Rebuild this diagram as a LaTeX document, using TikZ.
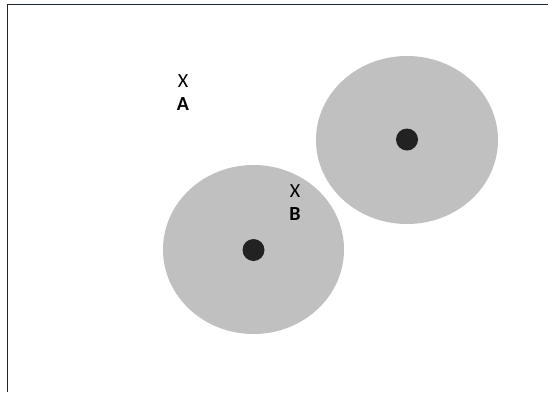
\documentclass[tikz,border=0pt]{standalone}
\usepackage{fontspec}
\setmainfont{Carlito}
\definecolor{disc}{HTML}{C0C0C0}
\definecolor{dotc}{HTML}{222222}
\definecolor{frame}{HTML}{1A2A30}
\begin{document}
\begin{tikzpicture}[x=1pt,y=-1pt,
  zone/.style={fill=disc,draw=none},
  centre/.style={circle,fill=dotc,inner sep=0pt,minimum size=22pt},
  lbl/.style={inner sep=0pt,font=\fontsize{20}{20}\selectfont}]
\useasboundingbox (0,0) rectangle (548,392);
\fill[white] (0,0) rectangle (548,392);
\draw[frame,line width=1.4pt] (7.5,392) -- (7.5,4.5) -- (548,4.5);
\fill[zone] (407,140) ellipse [x radius=91,y radius=84];
\fill[zone] (253.5,249.5) ellipse [x radius=90.5,y radius=84.5];
\node[centre] (c1) at (407,139.5) {};
\node[centre] (c2) at (253.5,250) {};
\node[lbl] (xa) at (183,81) {X};
\node[lbl] (a) at (183,104) {\textbf{A}};
\node[lbl] (xb) at (295,191) {X};
\node[lbl] (b) at (295,214) {\textbf{B}};
\end{tikzpicture}
\end{document}
